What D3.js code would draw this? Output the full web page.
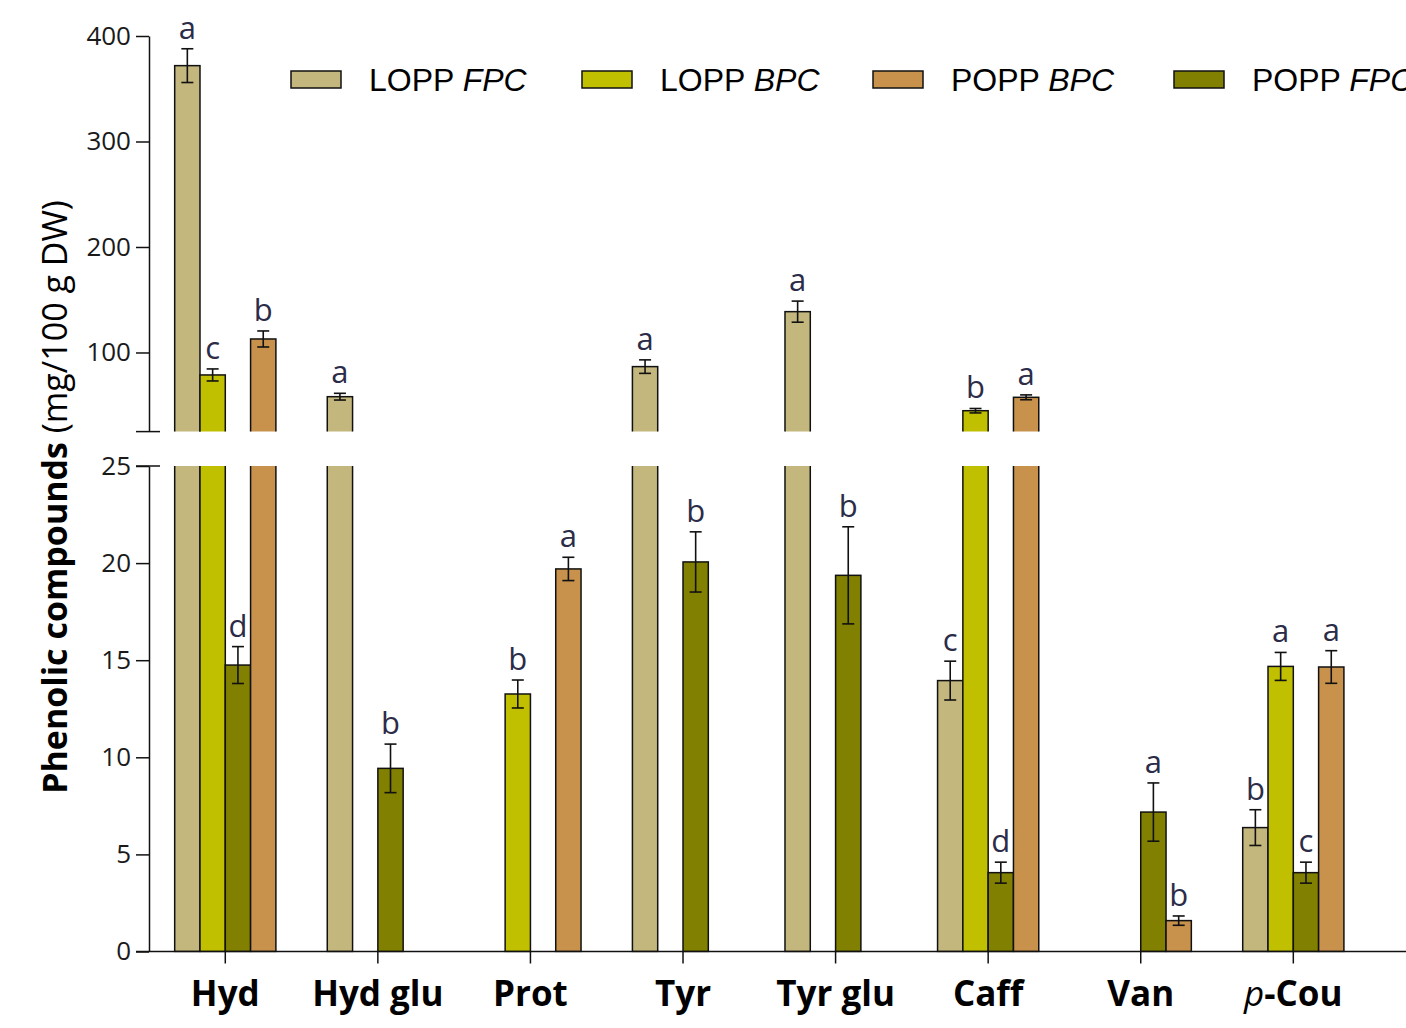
<!DOCTYPE html>
<html>
<head>
<meta charset="utf-8">
<script src="https://cdn.jsdelivr.net/npm/d3@7"></script>
<style>
  html, body { margin: 0; padding: 0; background: #fff; }
  svg { display: block; }
</style>
</head>
<body>
<svg id="chart" width="1406" height="1028"></svg>
<script>
// Phenolic compounds per extract (mg/100 g DW), mean ± error, with significance letters
const categories = ["Hyd", "Hyd glu", "Prot", "Tyr", "Tyr glu", "Caff", "Van", "p-Cou"];
const seriesNames = ["LOPP FPC", "LOPP BPC", "POPP FPC", "POPP BPC"];
const legendOrder = ["LOPP FPC", "LOPP BPC", "POPP BPC", "POPP FPC"];

const loppFPC        = [371.9, 58.1, null, 86.6, 138.7, 13.95, null, 6.38];
const loppFPCErr     = [16.0, 3.2, null, 6.4, 10.0, 1.0, null, 0.92];
const loppFPCLetters = ["a", "a", null, "a", "a", "c", null, "b"];

const loppBPC        = [78.7, null, 13.26, null, null, 44.8, null, 14.68];
const loppBPCErr     = [5.7, null, 0.72, null, null, 2.1, null, 0.72];
const loppBPCLetters = ["c", null, "b", null, null, "b", null, "a"];

const poppFPC        = [14.75, 9.43, null, 20.06, 19.37, 4.06, 7.18, 4.06];
const poppFPCErr     = [0.95, 1.25, null, 1.55, 2.5, 0.54, 1.5, 0.54];
const poppFPCLetters = ["d", "b", null, "b", "b", "d", "a", "c"];

const poppBPC        = [112.8, null, 19.7, null, null, 57.5, 1.59, 14.65];
const poppBPCErr     = [7.6, null, 0.6, null, null, 2.3, 0.24, 0.84];
const poppBPCLetters = ["b", null, "a", null, null, "a", "b", "a"];

const upperTicks = [100, 200, 300, 400];
const lowerTicks = [0, 5, 10, 15, 20, 25];
const breakValue = 25;

const colors = {
  "LOPP FPC": "#c3b77e",
  "LOPP BPC": "#c0c000",
  "POPP FPC": "#818000",
  "POPP BPC": "#c8924d"
};

const seriesData = {
  "LOPP FPC": { values: loppFPC, errs: loppFPCErr, letters: loppFPCLetters },
  "LOPP BPC": { values: loppBPC, errs: loppBPCErr, letters: loppBPCLetters },
  "POPP FPC": { values: poppFPC, errs: poppFPCErr, letters: poppFPCLetters },
  "POPP BPC": { values: poppBPC, errs: poppBPCErr, letters: poppBPCLetters }
};

const bars = [];
seriesNames.forEach(s => {
  const d = seriesData[s];
  categories.forEach((c, i) => {
    if (d.values[i] != null) {
      bars.push({ cat: c, series: s, value: d.values[i], err: d.errs[i], letter: d.letters[i] });
    }
  });
});

// ---- layout ----
const svg = d3.select("#chart");
const axisX = 149;
const upperTop = 36, upperBottom = 431.6;
const lowerTop = 466, lowerBottom = 951.5;

const yU = d3.scaleLinear().domain([breakValue, 400]).range([upperBottom, upperTop]);
const yL = d3.scaleLinear().domain([0, breakValue]).range([lowerBottom, lowerTop]);

const x0 = d3.scaleBand().domain(categories).range([axisX, 1369.6]);
const groupWidth = 101.2;
const x1 = d3.scaleBand().domain(seriesNames).range([0, groupWidth]);
const barX = d => x0(d.cat) + x0.bandwidth() / 2 - groupWidth / 2 + x1(d.series);

const defs = svg.append("defs");
defs.append("clipPath").attr("id", "clipUpper")
  .append("rect").attr("x", 0).attr("y", 0).attr("width", 1406).attr("height", upperBottom);
defs.append("clipPath").attr("id", "clipLower")
  .append("rect").attr("x", 0).attr("y", lowerTop).attr("width", 1406).attr("height", lowerBottom - lowerTop + 1);

const stroke = "#111";

// lower panel bars (tall ones run off the top and are clipped at the break)
svg.append("g").attr("clip-path", "url(#clipLower)")
  .selectAll("rect").data(bars).join("rect")
  .attr("x", barX)
  .attr("width", x1.bandwidth())
  .attr("y", d => d.value > breakValue ? lowerTop - 10 : yL(d.value))
  .attr("height", d => lowerBottom - (d.value > breakValue ? lowerTop - 10 : yL(d.value)))
  .attr("fill", d => colors[d.series])
  .attr("stroke", stroke).attr("stroke-width", 1.5);

// upper panel bars (only values above the break)
const upperBars = bars.filter(d => d.value > breakValue);
svg.append("g").attr("clip-path", "url(#clipUpper)")
  .selectAll("rect").data(upperBars).join("rect")
  .attr("x", barX)
  .attr("width", x1.bandwidth())
  .attr("y", d => yU(d.value))
  .attr("height", d => upperBottom + 10 - yU(d.value))
  .attr("fill", d => colors[d.series])
  .attr("stroke", stroke).attr("stroke-width", 1.5);

// error bars and letters
const capHalf = 6;
const errG = svg.append("g").attr("stroke", stroke).attr("stroke-width", 1.6).attr("fill", "none");
const letterG = svg.append("g");
bars.forEach(d => {
  const y = d.value > breakValue ? yU : yL;
  const cx = barX(d) + x1.bandwidth() / 2;
  const yHi = y(d.value + d.err), yLo = y(d.value - d.err);
  errG.append("line").attr("x1", cx).attr("x2", cx).attr("y1", yHi).attr("y2", yLo);
  errG.append("line").attr("x1", cx - capHalf).attr("x2", cx + capHalf).attr("y1", yHi).attr("y2", yHi);
  errG.append("line").attr("x1", cx - capHalf).attr("x2", cx + capHalf).attr("y1", yLo).attr("y2", yLo);
  if (d.letter) {
    letterG.append("text")
      .attr("x", cx).attr("y", yHi - 10)
      .attr("text-anchor", "middle")
      .attr("font-family", "'Open Sans', sans-serif")
      .attr("font-size", 31)
      .attr("fill", "#2c2c48")
      .text(d.letter);
  }
});

// ---- axes ----
function styleAxis(g) {
  g.selectAll("path, line").attr("stroke", stroke).attr("stroke-width", 1.5);
  g.selectAll("text")
    .attr("font-family", "'Open Sans', sans-serif")
    .attr("font-size", 26)
    .attr("fill", "#1a1a1a");
}

svg.append("g").attr("transform", `translate(${axisX},0)`)
  .call(d3.axisLeft(yU).tickValues(upperTicks).tickSize(13).tickSizeOuter(0).tickPadding(5))
  .call(styleAxis);
svg.append("g").attr("transform", `translate(${axisX},0)`)
  .call(d3.axisLeft(yL).tickValues(lowerTicks).tickSize(13).tickSizeOuter(0).tickPadding(5))
  .call(styleAxis);

// break marks: long ticks where the axis is cut
[upperBottom, lowerTop].forEach(yb => {
  svg.append("line")
    .attr("x1", axisX - 13).attr("x2", axisX + 11)
    .attr("y1", yb).attr("y2", yb)
    .attr("stroke", stroke).attr("stroke-width", 1.5);
});

// x axis
const xAxis = svg.append("g").attr("transform", `translate(0,${lowerBottom})`)
  .call(d3.axisBottom(x0).tickSize(12).tickSizeOuter(0).tickFormat(""));
xAxis.select(".domain").remove();
xAxis.selectAll("line").attr("stroke", stroke).attr("stroke-width", 1.5);
svg.append("line")
  .attr("x1", axisX - 13).attr("x2", 1406)
  .attr("y1", lowerBottom).attr("y2", lowerBottom)
  .attr("stroke", stroke).attr("stroke-width", 1.5);

const catLabels = svg.append("g")
  .attr("font-family", "'Open Sans', sans-serif")
  .attr("font-weight", "bold")
  .attr("font-size", 35)
  .attr("fill", "#000")
  .attr("text-anchor", "middle");
categories.forEach(c => {
  const t = catLabels.append("text")
    .attr("x", x0(c) + x0.bandwidth() / 2)
    .attr("y", 1006);
  if (c.startsWith("p-")) {
    t.append("tspan").attr("font-style", "italic").attr("font-weight", "normal").text("p");
    t.append("tspan").text(c.slice(1));
  } else {
    t.text(c);
  }
});

// y axis title
const yTitle = svg.append("text")
  .attr("transform", "translate(67,497) rotate(-90)")
  .attr("text-anchor", "middle")
  .attr("font-family", "'Open Sans', sans-serif")
  .attr("font-size", 34)
  .attr("fill", "#000");
yTitle.append("tspan").attr("font-weight", "bold").text("Phenolic compounds ");
yTitle.append("tspan").text("(mg/100 g DW)");

// ---- legend ----
const legendX = [291, 582, 873, 1174];
const legend = svg.append("g")
  .attr("font-family", "'Liberation Sans', Arial, sans-serif")
  .attr("font-size", 32)
  .attr("fill", "#000");
legendOrder.forEach((name, i) => {
  const [prefix, suffix] = name.split(" ");
  const lx = legendX[i];
  legend.append("rect")
    .attr("x", lx).attr("y", 71).attr("width", 50).attr("height", 17)
    .attr("fill", colors[name]).attr("stroke", stroke).attr("stroke-width", 1.5);
  const t = legend.append("text").attr("x", lx + 78).attr("y", 91);
  t.append("tspan").text(prefix + " ");
  t.append("tspan").attr("font-style", "italic").text(suffix);
});
</script>
</body>
</html>
